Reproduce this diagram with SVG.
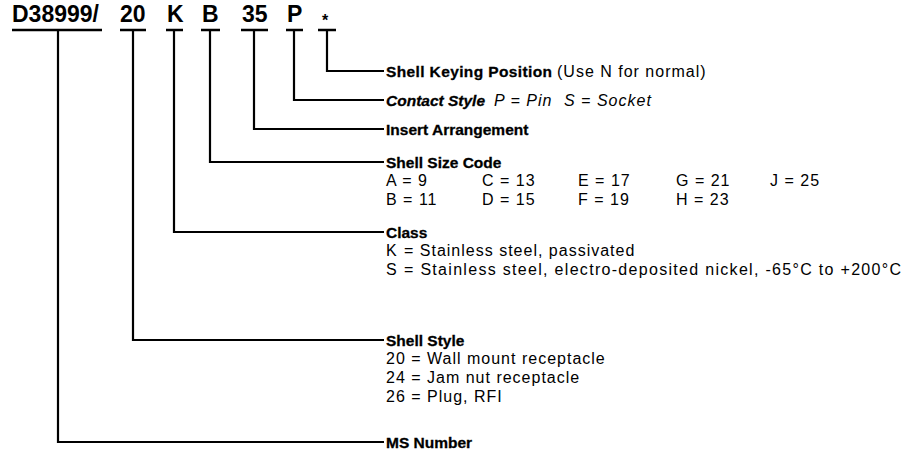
<svg xmlns="http://www.w3.org/2000/svg" width="912" height="456" viewBox="0 0 912 456">
<style>
.hd{font-family:"Liberation Sans",Arial,sans-serif;font-weight:bold;font-size:23px;fill:#000}
.t{font-family:"Liberation Sans",Arial,sans-serif;font-weight:bold;font-size:15.5px;fill:#000;stroke:#000;stroke-width:0.3}
.r{font-family:"Liberation Sans",Arial,sans-serif;font-size:16px;letter-spacing:1px;fill:#000}
.ul{stroke:#000;stroke-width:2.5;fill:none}
.ln{stroke:#000;stroke-width:2.2;fill:none}
</style>
<rect width="912" height="456" fill="#fff"/>
<g id="header">
<text class="hd" x="12" y="22">D38999/</text>
<text class="hd" x="120" y="22">20</text>
<text class="hd" x="167" y="22">K</text>
<text class="hd" x="202" y="22">B</text>
<text class="hd" x="242" y="22">35</text>
<text class="hd" x="287" y="22">P</text>
<text class="hd" x="322" y="26" style="font-size:16px">*</text>
<path class="ul" d="M12 30H102M120 30H146M166 30H183M201 30H220M241 30H268M286 30H303M318 30H336"/>
</g>
<g id="connectors">
<path class="ln" d="M58 30V442H384"/>
<path class="ln" d="M133 30V340H384"/>
<path class="ln" d="M174 30V232H384"/>
<path class="ln" d="M210 30V162H384"/>
<path class="ln" d="M254 30V129H384"/>
<path class="ln" d="M294 30V100H384"/>
<path class="ln" d="M327 30V71H384"/>
</g>
<g id="keying">
<text class="t" x="386" y="76.5" textLength="166" lengthAdjust="spacing">Shell Keying Position</text>
<text class="r" x="557" y="76.5">(Use N for normal)</text>
</g>
<g id="contact">
<text class="t" font-style="italic" x="386" y="105.5">Contact Style</text>
<text class="r" font-style="italic" y="105.5"><tspan x="494">P = Pin</tspan><tspan x="564">S = Socket</tspan></text>
</g>
<g id="insert">
<text class="t" x="386" y="134.5">Insert Arrangement</text>
</g>
<g id="shellsize">
<text class="t" x="386" y="167.5">Shell Size Code</text>
<text class="r" y="186"><tspan x="386">A = 9</tspan><tspan x="482">C = 13</tspan><tspan x="578">E = 17</tspan><tspan x="676">G = 21</tspan><tspan x="770">J = 25</tspan></text>
<text class="r" y="205"><tspan x="386">B = 11</tspan><tspan x="482">D = 15</tspan><tspan x="578">F = 19</tspan><tspan x="676">H = 23</tspan></text>
</g>
<g id="class">
<text class="t" x="386" y="237.5">Class</text>
<text class="r" y="256"><tspan x="386">K</tspan><tspan x="404">= Stainless steel, passivated</tspan></text>
<text class="r" y="275"><tspan x="386">S</tspan><tspan x="404" textLength="498" lengthAdjust="spacing">= Stainless steel, electro-deposited nickel, -65°C to +200°C</tspan></text>
</g>
<g id="shellstyle">
<text class="t" x="386" y="345.5">Shell Style</text>
<text class="r" x="386" y="364">20 = Wall mount receptacle</text>
<text class="r" x="386" y="383">24 = Jam nut receptacle</text>
<text class="r" x="386" y="402">26 = Plug, RFI</text>
</g>
<g id="msnumber">
<text class="t" x="386" y="447.5">MS Number</text>
</g>
</svg>
